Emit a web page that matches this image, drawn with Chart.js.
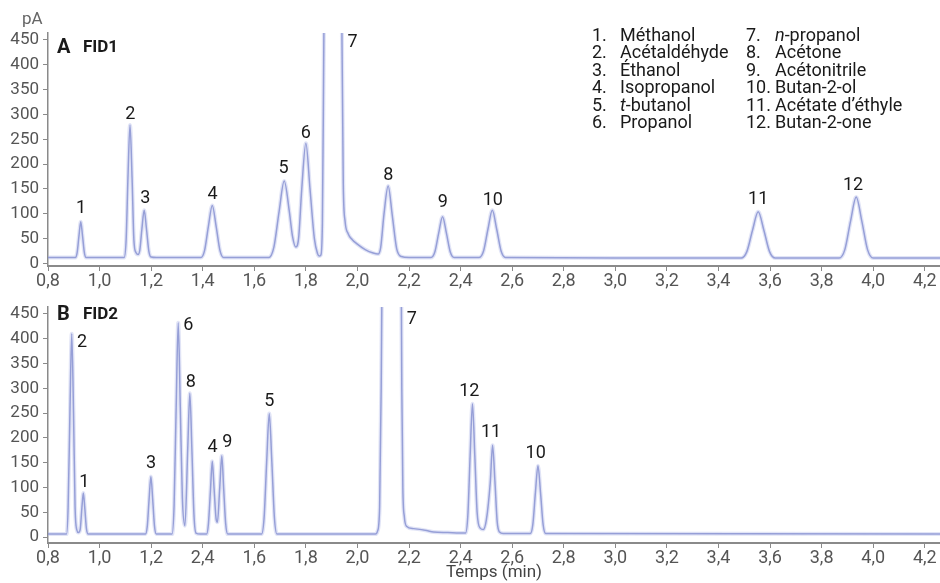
<!DOCTYPE html>
<html>
<head>
<meta charset="utf-8">
<script src="https://cdn.jsdelivr.net/npm/chart.js@4/dist/chart.umd.min.js"></script>
<style>
  html, body { margin: 0; padding: 0; background: #fff; }
  #wrap { position: relative; width: 940px; height: 583px; overflow: hidden; }
  canvas { position: absolute; left: 0; }
  #cA { top: 0; }
  #cB { top: 290px; }
</style>
</head>
<body>
<div id="wrap">
  <canvas id="cA" width="940" height="290"></canvas>
  <canvas id="cB" width="940" height="293"></canvas>
</div>
<script>
// Chromatogram A (FID1): retention time (min) and signal (pA)
const timeA = [0.8, 0.9,
  0.906, 0.913, 0.920, 0.927, 0.934, 0.941, 0.948,
  1.08, 1.095, 1.103, 1.110, 1.118, 1.126, 1.133, 1.141, 1.149,
  1.156, 1.164, 1.173, 1.182, 1.191, 1.20, 1.22,
  1.393, 1.407, 1.422, 1.437, 1.452, 1.467, 1.481,
  1.656, 1.676, 1.696, 1.716, 1.736, 1.748, 1.761,
  1.772, 1.784, 1.80, 1.816, 1.833, 1.845, 1.852,
  1.858, 1.864, 1.869, 1.876, 1.905, 1.935, 1.940, 1.945, 1.952, 1.964, 1.98, 1.997, 2.03, 2.061, 2.08,
  2.09, 2.103, 2.119, 2.135, 2.152, 2.17, 2.2,
  2.285, 2.30, 2.315, 2.33, 2.345, 2.36, 2.375,
  2.472, 2.489, 2.506, 2.523, 2.540, 2.557, 2.574,
  3.0, 3.488, 3.51, 3.532, 3.554, 3.576, 3.598, 3.62,
  3.868, 3.89, 3.912, 3.934, 3.956, 3.978, 4.0, 4.26];
const signalA = [12, 12,
  12, 22, 55, 84, 55, 22, 12,
  12, 12, 48, 172, 279, 172, 48, 22, 18,
  27, 69, 107, 69, 25, 13, 12,
  12, 26, 75, 117, 75, 26, 12,
  12, 33, 104, 166, 104, 55, 33,
  52, 150, 242, 150, 50, 20, 15,
  17, 80, 400, 900, 1500, 900, 450, 160, 85, 60, 48, 40, 28, 21, 19,
  32, 100, 156, 97, 30, 14, 12,
  12, 23, 61, 94, 61, 23, 12,
  12, 25, 69, 107, 69, 25, 12,
  11, 11, 24, 67, 104, 67, 24, 11,
  11, 28, 85, 134, 85, 28, 11, 11];

// Chromatogram B (FID2)
const timeB = [0.8, 0.87,
  0.872, 0.878, 0.885, 0.892, 0.899, 0.905, 0.912, 0.918,
  0.925, 0.931, 0.937, 0.943, 0.949, 0.956,
  1.17, 1.178, 1.185, 1.192, 1.199, 1.206, 1.213, 1.22,
  1.281, 1.289, 1.297, 1.305, 1.313, 1.321, 1.331,
  1.342, 1.35, 1.358, 1.366, 1.374, 1.39,
  1.415, 1.422, 1.43, 1.437, 1.444, 1.452, 1.457,
  1.466, 1.474, 1.481, 1.489, 1.497,
  1.628, 1.638, 1.648, 1.658, 1.668, 1.678, 1.688,
  2.07, 2.078, 2.086, 2.092, 2.098, 2.135, 2.168, 2.172, 2.176, 2.182, 2.19, 2.217, 2.268, 2.295, 2.35, 2.396, 2.41,
  2.419, 2.428, 2.437, 2.446, 2.455, 2.464, 2.476, 2.488,
  2.500, 2.515, 2.524, 2.533, 2.542, 2.551, 2.565,
  2.67, 2.68, 2.69, 2.70, 2.71, 2.72, 2.73, 4.26];
const signalB = [6, 6,
  6, 60, 250, 410, 250, 60, 14, 9,
  16, 56, 89, 56, 17, 6,
  6, 6, 22, 76, 122, 76, 22, 6,
  6, 64, 262, 432, 262, 80, 23,
  180, 290, 176, 45, 8, 6,
  6, 26, 94, 153, 98, 36, 30,
  100, 164, 100, 27, 6,
  6, 39, 152, 249, 152, 39, 6,
  6, 12, 60, 300, 700, 1500, 700, 300, 100, 40, 22, 17, 13, 10, 9, 8, 8,
  8, 43, 165, 269, 165, 50, 18, 15,
  35, 110, 185, 113, 30, 10, 7,
  7, 25, 89, 144, 89, 25, 7, 6];

// Peak numbers and where their labels sit (time, pA)
const peakTextA = ['1', '2', '3', '4', '5', '6', '7', '8', '9', '10', '11', '12'];
const peakTimeA = [0.928, 1.119, 1.177, 1.438, 1.713, 1.80, 1.981, 2.12, 2.331, 2.525, 3.554, 3.922];
const peakLevelA = [111, 299, 131, 139, 191, 261, 445, 178, 122, 126, 128, 158];

const peakTextB = ['2', '1', '3', '6', '8', '4', '9', '5', '7', '12', '11', '10'];
const peakTimeB = [0.932, 0.941, 1.20, 1.344, 1.354, 1.438, 1.495, 1.658, 2.211, 2.434, 2.518, 2.691];
const peakLevelB = [393, 111, 148, 426, 312, 181, 191, 273, 438, 294, 210, 168];

// Axis ticks
const xTicks = [0.8, 1.0, 1.2, 1.4, 1.6, 1.8, 2.0, 2.2, 2.4, 2.6, 2.8, 3.0, 3.2, 3.4, 3.6, 3.8, 4.0, 4.2];
const xTickLabelsA = ['0,8', '1,0', '1,2', '1,4', '1,6', '1,8', '2,0', '2,2', '2,4', '2,6', '2,8', '3,0', '3,2', '3,4', '3,6', '3,8', '4,0', '4,2'];
const xTickLabelsB = ['0,8', '1,0', '1,2', '2,4', '1,6', '1,8', '2,0', '2,2', '2,4', '2,6', '2,8', '3,0', '3,2', '3,4', '3,6', '3,8', '4,0', '4,2'];
const yTicks = [0, 50, 100, 150, 200, 250, 300, 350, 400, 450];

// Compound list
const compoundNo = ['1.', '2.', '3.', '4.', '5.', '6.', '7.', '8.', '9.', '10.', '11.', '12.'];
const compoundName = ['Méthanol', 'Acétaldéhyde', 'Éthanol', 'Isopropanol', '|t|-butanol', 'Propanol',
  '|n|-propanol', 'Acétone', 'Acétonitrile', 'Butan-2-ol', 'Acétate d’éthyle', 'Butan-2-one'];

const FONT = 'Roboto, "Noto Sans", sans-serif';
const LINE = 'rgba(120, 130, 200, 0.85)';
const AXIS = '#8a8a8a';

// draws text where |x| parts are italic
function drawMixed(ctx, str, x, y, size) {
  const parts = str.split('|');
  parts.forEach((p, i) => {
    ctx.font = (i % 2 ? 'italic ' : '') + size + 'px ' + FONT;
    ctx.fillText(p, x, y);
    x += ctx.measureText(p).width;
  });
}

function peakLabels(texts, times, levels) {
  return {
    id: 'peakLabels',
    afterDatasetsDraw(chart) {
      const ctx = chart.ctx;
      const xs = chart.scales.x, ys = chart.scales.y;
      ctx.save();
      ctx.fillStyle = '#1a1a1a';
      ctx.font = '18px ' + FONT;
      ctx.textAlign = 'center';
      ctx.textBaseline = 'middle';
      texts.forEach((t, i) => {
        ctx.fillText(t, xs.getPixelForValue(times[i]), ys.getPixelForValue(levels[i]));
      });
      ctx.restore();
    }
  };
}

function panelTitle(letter, name, cy) {
  return {
    id: 'panelTitle',
    afterDraw(chart) {
      const ctx = chart.ctx;
      ctx.save();
      ctx.fillStyle = '#1a1a1a';
      ctx.textBaseline = 'middle';
      ctx.font = 'bold 20px ' + FONT;
      ctx.fillText(letter, 57, cy);
      ctx.font = 'bold 17px ' + FONT;
      ctx.fillText(name, 83, cy);
      ctx.restore();
    }
  };
}

const extrasA = {
  id: 'extrasA',
  afterDraw(chart) {
    const ctx = chart.ctx;
    ctx.save();
    ctx.fillStyle = '#666';
    ctx.textBaseline = 'middle';
    ctx.font = '17px ' + FONT;
    ctx.fillText('pA', 22, 20);
    ctx.fillStyle = '#1a1a1a';
    for (let i = 0; i < 12; i++) {
      const col = i < 6 ? 0 : 1;
      const row = i % 6;
      const y = 36 + row * 17.5;
      ctx.font = '18px ' + FONT;
      ctx.fillText(compoundNo[i], col ? 746 : 592, y);
      drawMixed(ctx, compoundName[i], col ? 775 : 620, y, 18);
    }
    ctx.restore();
  }
};

function makeChart(id, times, values, tickLabels, opts, plugins) {
  const pts = times.map((t, i) => ({ x: t, y: values[i] }));
  return new Chart(document.getElementById(id), {
    type: 'line',
    data: {
      datasets: [{
        data: pts,
        borderColor: 'rgba(170, 178, 228, 0.35)',
        borderWidth: 4,
        pointRadius: 0,
        cubicInterpolationMode: 'monotone'
      }, {
        data: pts,
        borderColor: LINE,
        borderWidth: 1.5,
        pointRadius: 0,
        cubicInterpolationMode: 'monotone'
      }]
    },
    options: {
      responsive: false,
      animation: false,
      devicePixelRatio: 1,
      layout: { padding: { top: opts.top, right: 0, left: 0, bottom: 0 } },
      plugins: { legend: { display: false }, tooltip: { enabled: false } },
      scales: {
        x: {
          type: 'linear',
          min: 0.8,
          max: 4.259,
          afterBuildTicks: s => { s.ticks = xTicks.map(v => ({ value: v })); },
          afterFit: s => { s.height = opts.xh; },
          ticks: {
            autoSkip: false,
            maxRotation: 0,
            padding: 0,
            color: '#555',
            font: { family: FONT, size: 18 },
            callback: (v, i) => tickLabels[i]
          },
          grid: { drawOnChartArea: false, color: AXIS, tickLength: 5 },
          border: { color: AXIS, width: 2 },
          title: opts.title ? {
            display: true, text: 'Temps (min)', color: '#444',
            font: { family: FONT, size: 17 }, padding: { top: 0, bottom: 0 }
          } : { display: false }
        },
        y: {
          min: opts.ymin,
          max: opts.ymax,
          afterBuildTicks: s => { s.ticks = yTicks.map(v => ({ value: v })); },
          afterFit: s => { s.width = 48; },
          ticks: {
            padding: 4,
            color: '#555',
            font: { family: FONT, size: 17 }
          },
          grid: { drawOnChartArea: false, color: AXIS, tickLength: 5 },
          border: { color: AXIS, width: 1.5 }
        }
      }
    },
    plugins: plugins
  });
}

makeChart('cA', timeA, signalA, xTickLabelsA, { top: 33, xh: 24, ymin: -5, ymax: 464, title: false },
  [peakLabels(peakTextA, peakTimeA, peakLevelA), panelTitle('A', 'FID1', 47.5), extrasA]);
makeChart('cB', timeB, signalB, xTickLabelsB, { top: 17, xh: 40, ymin: -12, ymax: 464, title: true },
  [peakLabels(peakTextB, peakTimeB, peakLevelB), panelTitle('B', 'FID2', 25)]);
</script>
</body>
</html>
